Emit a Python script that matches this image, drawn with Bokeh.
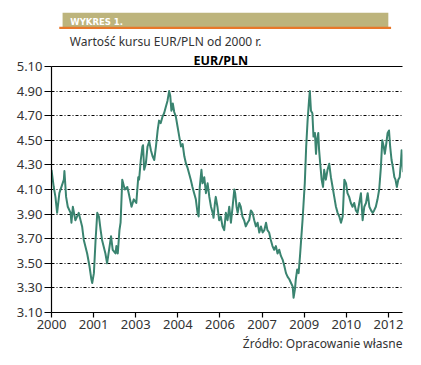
from bokeh.plotting import figure
from bokeh.layouts import column
from bokeh.models import (FixedTicker, Label, BoxAnnotation, Range1d, NumeralTickFormatter,
                          LinearAxis, Title)
from bokeh.embed import file_html
from bokeh.resources import INLINE

# ---- data ----
years = [
    2000.00, 2000.08, 2000.14, 2000.20, 2000.28, 2000.44, 2000.46, 2000.52, 2000.58, 2000.68,
    2000.71, 2000.76, 2000.85, 2000.97, 2001.09, 2001.15, 2001.27, 2001.35, 2001.42, 2001.45,
    2001.51, 2001.57, 2001.63, 2001.69, 2001.75, 2001.80, 2001.92, 2001.98, 2002.07, 2002.12,
    2002.18, 2002.28, 2002.31, 2002.36, 2002.42, 2002.46, 2002.52, 2002.61, 2002.70, 2002.75,
    2002.85, 2002.93, 2003.02, 2003.09,
    2003.12, 2003.18, 2003.24, 2003.26, 2003.30, 2003.36, 2003.42, 2003.48, 2003.54, 2003.60,
    2003.66, 2003.72, 2003.78, 2003.83, 2003.89, 2003.95, 2004.01, 2004.07, 2004.13, 2004.19,
    2004.23, 2004.27, 2004.32, 2004.37, 2004.43, 2004.49, 2004.55, 2004.61, 2004.67, 2004.73,
    2004.79, 2004.84, 2004.90, 2004.96, 2005.02, 2005.08, 2005.14, 2005.20, 2005.24, 2005.28,
    2005.34, 2005.38, 2005.44, 2005.50, 2005.56, 2005.62, 2005.68, 2005.74, 2005.77, 2005.82,
    2005.85,
    2005.91, 2005.97, 2006.03, 2006.09, 2006.15, 2006.21, 2006.27, 2006.33, 2006.39, 2006.45,
    2006.51, 2006.54, 2006.59, 2006.63, 2006.69, 2006.74, 2006.80, 2006.86, 2006.92, 2006.98,
    2007.04, 2007.10, 2007.16, 2007.22, 2007.28, 2007.34, 2007.40, 2007.46, 2007.52, 2007.58,
    2007.64, 2007.69, 2007.75, 2007.81, 2007.87, 2007.93, 2007.99, 2008.05, 2008.11, 2008.17,
    2008.23, 2008.29, 2008.35, 2008.41, 2008.47, 2008.53, 2008.59, 2008.62, 2008.67, 2008.70,
    2008.75, 2008.80, 2008.85, 2008.89, 2008.94, 2008.98, 2009.02, 2009.07, 2009.12, 2009.17,
    2009.20,
    2009.24, 2009.29, 2009.33, 2009.38, 2009.42, 2009.45, 2009.50, 2009.53, 2009.57, 2009.62,
    2009.67, 2009.71, 2009.77, 2009.83, 2009.89, 2009.95, 2010.01, 2010.07, 2010.13, 2010.19,
    2010.25, 2010.31, 2010.37, 2010.43, 2010.49, 2010.54, 2010.60, 2010.66, 2010.72, 2010.78,
    2010.84, 2010.90, 2010.96, 2011.02, 2011.08, 2011.14, 2011.20, 2011.26, 2011.32, 2011.38,
    2011.44, 2011.49, 2011.55, 2011.61, 2011.67, 2011.73, 2011.78, 2011.83, 2011.87, 2011.92,
    2011.97, 2012.02, 2012.06, 2012.11, 2012.16, 2012.21, 2012.25, 2012.30, 2012.35, 2012.40,
    2012.44, 2012.47, 2012.50, 2012.52,
]
eur_pln = [
    4.26, 4.12, 4.04, 3.91, 4.07, 4.18, 4.25, 4.04, 3.96, 3.91,
    3.83, 3.96, 3.85, 3.91, 3.80, 3.69, 3.58, 3.48, 3.37, 3.34,
    3.42, 3.69, 3.91, 3.88, 3.77, 3.69, 3.58, 3.50, 3.64, 3.72,
    3.61, 3.58, 3.64, 3.58, 3.77, 3.83, 4.18, 4.10, 4.12, 4.07,
    3.96, 4.02, 3.99, 4.20,
    4.18, 4.34, 4.45, 4.46, 4.26, 4.31, 4.45, 4.49, 4.42, 4.37,
    4.34, 4.45, 4.58, 4.66, 4.64, 4.69, 4.72, 4.77, 4.82, 4.90,
    4.86, 4.74, 4.80, 4.73, 4.69, 4.61, 4.53, 4.45, 4.47, 4.37,
    4.31, 4.28, 4.23, 4.18, 4.12, 4.07, 4.02, 3.91, 3.88, 4.12,
    4.26, 4.15, 4.20, 4.07, 4.15, 4.04, 3.96, 3.91, 3.87, 3.99,
    4.04,
    3.96, 3.85, 3.88, 3.80, 3.77, 3.91, 3.85, 3.96, 3.83, 3.96,
    4.10, 4.07, 3.96, 3.91, 3.99, 3.96, 3.88, 3.85, 3.80, 3.83,
    3.85, 3.93, 3.91, 3.85, 3.80, 3.83, 3.75, 3.80, 3.75, 3.77,
    3.83, 3.77, 3.75, 3.69, 3.64, 3.61, 3.64, 3.58, 3.61, 3.56,
    3.53, 3.48, 3.42, 3.39, 3.37, 3.34, 3.31, 3.22, 3.29, 3.37,
    3.45, 3.42, 3.56, 3.69, 3.85, 4.00, 4.15, 4.45, 4.66, 4.82,
    4.90,
    4.74, 4.72, 4.53, 4.56, 4.39, 4.50, 4.56, 4.42, 4.31, 4.18,
    4.12, 4.26, 4.18, 4.26, 4.31, 4.20, 4.12, 4.04, 3.96, 3.91,
    3.88, 3.83, 3.88, 4.18, 4.15, 4.07, 4.04, 3.99, 3.96, 3.99,
    3.93, 3.91, 3.99, 4.07, 3.85, 3.96, 3.99, 4.07, 3.96, 3.93,
    3.91, 3.93, 3.96, 4.02, 4.10, 4.28, 4.50, 4.45, 4.39, 4.47,
    4.56, 4.58, 4.45, 4.34, 4.28, 4.20, 4.18, 4.12, 4.18, 4.20,
    4.31, 4.42, 4.31, 4.24,
]
x_ticks = [2000, 2001.5, 2003, 2004.5, 2006, 2007.5, 2009, 2010.5, 2012]
x_tick_labels = ["2000", "2001", "2003", "2004", "2006", "2007", "2009", "2010", "2012"]
y_ticks = [3.10, 3.30, 3.50, 3.70, 3.90, 4.10, 4.30, 4.50, 4.70, 4.90, 5.10]

header_text = "WYKRES 1."
subtitle_text = "Wartość kursu EUR/PLN od 2000 r."
chart_title = "EUR/PLN"
source_text = "Źródło: Opracowanie własne"

FONT = "Noto Sans"
LINE_COLOR = "#3a8470"
TEXT_COLOR = "#333333"
W = 421
HEADER_H = 50

# ---------------- header (band, subtitle) ----------------
# y measured upwards from the bottom of the header strip
hdr = figure(width=W, height=HEADER_H, output_backend="svg", toolbar_location=None,
             x_range=Range1d(0, W), y_range=Range1d(0, HEADER_H),
             x_axis_type=None, y_axis_type=None, min_border=0,
             outline_line_color=None, background_fill_color="white",
             border_fill_color="white")
hdr.grid.visible = False
hdr.add_layout(BoxAnnotation(left=13.3, right=404, top=HEADER_H - 12.3, bottom=HEADER_H - 26.5,
                             fill_color="#bdb47c", fill_alpha=1, line_color=None))
hdr.add_layout(BoxAnnotation(left=9.3, right=407.3, top=HEADER_H - 26.2, bottom=HEADER_H - 28.6,
                             fill_color="#e8782a", fill_alpha=1, line_color=None))
hdr.add_layout(Label(x=22.5, y=HEADER_H - 21.5, text=header_text, text_font="DejaVu Sans",
                     text_font_size="8.5px", text_font_style="bold",
                     text_color="white", text_baseline="alphabetic"))
hdr.add_layout(Label(x=22, y=HEADER_H - 41, text=subtitle_text, text_font=FONT,
                     text_font_size="12px", text_color=TEXT_COLOR,
                     text_baseline="alphabetic"))

# ---------------- main chart ----------------
p = figure(width=W, height=365 - HEADER_H, output_backend="svg", toolbar_location=None,
           x_range=Range1d(2000, 2012.5), y_range=Range1d(3.10, 5.10),
           min_border_left=51, min_border_right=19, min_border_top=16,
           min_border_bottom=53, background_fill_color="white",
           border_fill_color="white", outline_line_color=None)

p.title.text = chart_title
p.title.align = "left"
p.title.offset = 142
p.title.standoff = -5
p.title.text_font = FONT
p.title.text_font_size = "12.5px"
p.title.text_font_style = "bold"
p.title.text_color = "black"

p.line(years, eur_pln, line_color=LINE_COLOR, line_width=2.0, line_join="round")

for ax in (p.xaxis[0], p.yaxis[0]):
    ax.axis_line_color = "black"
    ax.axis_line_width = 1.2
    ax.major_tick_line_color = "black"
    ax.major_tick_line_width = 1.2
    ax.major_tick_in = 0
    ax.minor_tick_line_color = None
    ax.major_label_text_font = FONT
    ax.major_label_text_font_size = "13px"
    ax.major_label_text_color = TEXT_COLOR
    ax.major_label_standoff = 2

p.xaxis[0].major_tick_out = 5
p.yaxis[0].major_tick_out = 7
p.xaxis[0].ticker = FixedTicker(ticks=x_ticks)
p.xaxis[0].major_label_overrides = {t: lab for t, lab in zip(x_ticks, x_tick_labels)}
p.yaxis[0].ticker = FixedTicker(ticks=y_ticks)
p.yaxis[0].formatter = NumeralTickFormatter(format="0.00")

# top border line of the frame
top_axis = LinearAxis(ticker=FixedTicker(ticks=[]), axis_line_color="black",
                      axis_line_width=1.2, major_tick_line_color=None,
                      major_tick_out=0, major_tick_in=0, major_label_standoff=0,
                      minor_tick_line_color=None, major_label_text_font_size="0px")
p.add_layout(top_axis, "above")

p.xgrid.grid_line_color = None
p.ygrid.ticker = FixedTicker(ticks=y_ticks[1:-1])
p.ygrid.grid_line_color = "black"
p.ygrid.grid_line_width = 1
p.ygrid.grid_line_dash = "3 2 1 2"

p.add_layout(Title(text=source_text, align="right", text_font=FONT,
                   text_font_size="12px", text_font_style="normal",
                   text_color=TEXT_COLOR, standoff=3), "below")

layout = column(hdr, p, spacing=0)
open("out.html", "w").write(file_html(layout, INLINE))
